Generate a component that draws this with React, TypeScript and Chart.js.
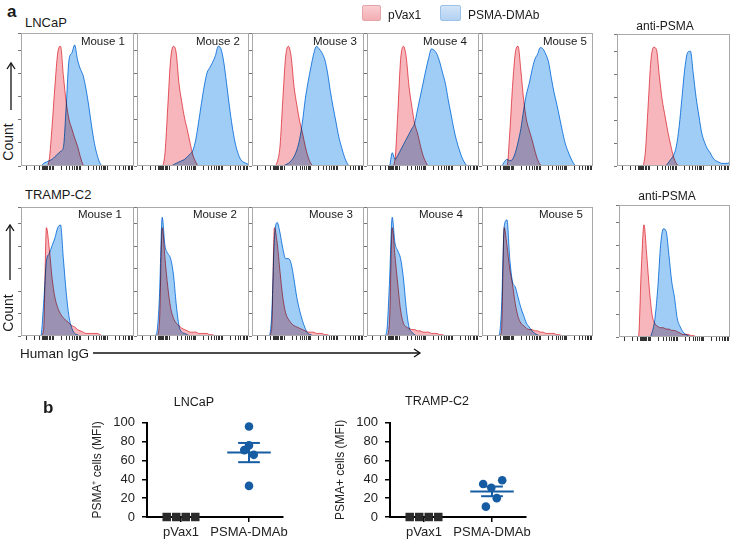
import React, { useEffect, useRef } from 'react';
import { Chart, registerables } from 'chart.js';
Chart.register(...registerables);

const FONT = '"Liberation Sans", Arial, Helvetica, sans-serif';
Chart.defaults.font.family = FONT;

// ---------- Panel a: histogram data (41 channels, % of max count) ----------
const BINS = [0,1,2,3,4,5,6,7,8,9,10,11,12,13,14,15,16,17,18,19,20,21,22,23,24,25,26,27,28,29,30,31,32,33,34,35,36,37,38,39,40];

// LNCaP row
const LN1_PVAX = [0,0,0,0,0,0,0,0,0,0, 5,30,60,85,90,68,48,35,28,21, 15,7,1,0,0,0,0,0,0,0, 0,0,0,0,0,0,0,0,0,0, 0];
const LN1_DMAB = [0,0,0,0,0,0,0,0,2,3, 4,5,7,9,11,14,45,80,85,91, 80,73,68,58,45,30,17,8,2,0, 0,0,0,0,0,0,0,0,0,0, 0];
const LN2_PVAX = [0,0,0,0,0,0,0,0,0,0, 10,45,80,90,85,62,48,36,27,17, 8,3,0,0,0,0,0,0,0,0, 0,0,0,0,0,0,0,0,0,0, 0];
const LN2_DMAB = [0,0,0,0,0,0,0,0,0,0, 0,0,0,1,2,3,4,5,7,9, 12,20,33,47,60,70,74,78,83,90, 88,78,62,45,30,18,10,5,3,2, 1];
const LN3_PVAX = [0,0,0,0,0,0,0,0,0,3, 15,50,82,90,82,60,46,34,25,15, 7,2,0,0,0,0,0,0,0,0, 0,0,0,0,0,0,0,0,0,0, 0];
const LN3_DMAB = [0,0,0,0,0,0,0,0,0,0, 0,0,1,2,4,7,12,20,33,50, 63,74,84,90,88,85,80,70,56,44, 33,22,14,7,2,0,0,0,0,0, 0];
const LN4_PVAX = [0,0,0,0,0,0,0,0,0,0, 5,40,80,90,82,60,45,32,25,16, 8,3,0,0,0,0,0,0,0,0, 0,0,0,0,0,0,0,0,0,0, 0];
const LN4_DMAB = [0,0,0,0,0,0,0,0,0,10, 5,8,12,16,20,24,28,32,42,52, 62,72,81,88,87,84,78,70,62,50, 39,28,19,12,6,2,0,0,0,0, 0];
const LN5_PVAX = [0,0,0,0,0,0,0,0,0,0, 25,60,85,90,72,50,35,27,20,12, 5,1,0,0,0,0,0,0,0,0, 0,0,0,0,0,0,0,0,0,0, 0];
const LN5_DMAB = [0,0,0,0,0,0,0,0,3,5, 4,5,10,18,28,42,54,62,72,80, 84,89,88,84,78,66,55,46,36,26, 17,11,6,2,0,0,0,0,0,0, 0];
const LNA_PVAX = [0,0,0,0,0,0,0,0,0,0, 10,45,80,90,88,68,50,38,26,16, 7,2,0,0,0,0,0,0,0,0, 0,0,0,0,0,0,0,0,0,0, 0];
const LNA_ANTI = [0,0,0,0,0,0,0,0,0,0, 0,0,0,0,0,0,0,0,2,5, 8,15,30,52,74,86,87,70,52,38, 25,18,13,10,6,4,3,2,2,2, 3];

// TRAMP-C2 row
const TR1_PVAX = [0,0,0,0,0,0,0,0,5,84, 68,45,30,22,17,14,12,10,8,7, 5,4,3,2,2,2,2,2,1,0, 0,0,0,0,0,0,0,0,0,0, 0];
const TR1_DMAB = [0,0,0,0,0,0,0,0,25,58, 64,70,76,84,86,60,34,15,6,2, 1,0,0,0,0,0,0,0,0,0, 0,0,0,0,0,0,0,0,0,0, 0];
const TR2_PVAX = [0,0,0,0,0,0,0,0,10,84, 60,38,22,14,10,8,6,5,4,3, 3,3,2,2,2,2,1,1,0,0, 0,0,0,0,0,0,0,0,0,0, 0];
const TR2_DMAB = [0,0,0,0,0,0,0,2,30,92, 70,64,60,48,25,8,3,2,1,0, 0,0,0,0,0,0,0,0,0,0, 0,0,0,0,0,0,0,0,0,0, 0];
const TR3_PVAX = [0,0,0,0,0,0,0,5,84,72, 50,30,18,13,10,8,7,6,5,4, 3,3,3,2,2,2,1,1,0,0, 0,0,0,0,0,0,0,0,0,0, 0];
const TR3_DMAB = [0,0,0,0,0,0,0,15,75,88, 80,68,60,60,56,44,30,20,12,6, 2,1,0,0,0,0,0,0,0,0, 0,0,0,0,0,0,0,0,0,0, 0];
const TR4_PVAX = [0,0,0,0,0,0,0,0,10,84, 62,40,20,10,7,6,5,5,4,4, 3,3,3,2,2,2,1,1,0,0, 0,0,0,0,0,0,0,0,0,0, 0];
const TR4_DMAB = [0,0,0,0,0,0,0,3,40,92, 72,66,60,45,22,7,3,1,0,0, 0,0,0,0,0,0,0,0,0,0, 0,0,0,0,0,0,0,0,0,0, 0];
const TR5_PVAX = [0,0,0,0,0,0,0,3,84,70, 52,40,25,15,10,8,6,5,5,4, 4,3,3,2,2,2,2,1,1,0, 0,0,0,0,0,0,0,0,0,0, 0];
const TR5_DMAB = [0,0,0,0,0,0,0,20,85,90, 60,42,38,30,22,16,10,7,4,2, 1,0,0,0,0,0,0,0,0,0, 0,0,0,0,0,0,0,0,0,0, 0];
const TRA_PVAX = [0,0,0,0,0,0,0,0,50,85, 62,35,16,10,8,7,7,6,6,5, 5,4,3,2,2,2,1,1,0,0, 0,0,0,0,0,0,0,0,0,0, 0];
const TRA_ANTI = [0,0,0,0,0,0,0,0,0,0, 0,0,4,15,38,70,82,80,62,42, 30,14,8,4,2,1,0,0,0,0, 0,0,0,0,0,0,0,0,0,0, 0];

const MICE = ['Mouse 1', 'Mouse 2', 'Mouse 3', 'Mouse 4', 'Mouse 5'];
const CONTROL_LABEL = 'anti-PSMA';
const LEGEND = ['pVax1', 'PSMA-DMAb'];

// ---------- Panel b: dot plots ----------
const GROUPS = ['pVax1', 'PSMA-DMAb'];
const LNCAP_PVAX = [0, 0, 0, 0];
const LNCAP_DMAB = [96, 76, 71, 66, 33];
const TRAMP_PVAX = [0, 0, 0, 0];
const TRAMP_DMAB = [39, 35, 31, 20, 11];
const PVAX_JITTER = [-0.21, -0.07, 0.07, 0.21];
const LNCAP_JITTER = [0, 0, -0.07, 0.07, 0];
const TRAMP_JITTER = [0.15, -0.13, -0.01, 0.07, -0.09];
const Y_TICK_STEP = 20;

// log-like channel axis ticks
const X_TICKS: number[] = [];
[2, 11.5, 21, 30.5].forEach((d) => {
  for (let k = 1; k <= 9; k++) X_TICKS.push(d + 9.5 * Math.log10(k));
});
for (let v = 8; v <= 9.41; v += 0.2) X_TICKS.push(v);

const PINK_FILL = 'rgb(247,182,187)';
const PINK_LINE = 'rgb(232,95,105)';
const BLUE_FILL = 'rgb(160,205,245)';
const BLUE_LINE = 'rgb(45,140,228)';
const DOT = 'rgb(22,92,162)';

const blendPlugin = {
  id: 'blend',
  beforeDatasetsDraw(c: any) { c.ctx.save(); c.ctx.globalCompositeOperation = 'multiply'; },
  afterDatasetsDraw(c: any) { c.ctx.restore(); },
};
const framePlugin = {
  id: 'frame',
  afterDraw(c: any) {
    const { ctx, chartArea: a } = c;
    ctx.save();
    ctx.strokeStyle = '#a9a9a9';
    ctx.lineWidth = 1;
    ctx.strokeRect(Math.round(a.left) + 0.5, Math.round(a.top) + 0.5, Math.round(a.right - a.left) - 1, Math.round(a.bottom - a.top) - 1);
    ctx.restore();
  },
};

const TL = 4;

function Hist({ left, top, width, height, pink, blue }: any) {
  const ref = useRef<HTMLCanvasElement>(null);
  useEffect(() => {
    const mk = (arr: number[], line: string, fillc: string) => ({
      data: arr.map((y, i) => ({ x: BINS[i], y })),
      borderColor: line,
      backgroundColor: fillc,
      fill: 'origin',
      borderWidth: 1,
      pointRadius: 0,
      cubicInterpolationMode: 'monotone',
    });
    const chart = new Chart(ref.current as HTMLCanvasElement, {
      type: 'line',
      data: { datasets: [mk(blue, BLUE_LINE, BLUE_FILL), mk(pink, PINK_LINE, PINK_FILL)] as any },
      options: {
        responsive: false,
        animation: false,
        devicePixelRatio: 1,
        events: [],
        layout: { padding: 0 },
        plugins: { legend: { display: false }, tooltip: { enabled: false } },
        scales: {
          x: {
            type: 'linear', min: 0, max: 40,
            ticks: { display: false },
            grid: { drawOnChartArea: false, drawTicks: true, tickLength: TL, color: '#333', lineWidth: 1 },
            border: { display: false },
            afterBuildTicks: (s: any) => { s.ticks = X_TICKS.map((value) => ({ value })); },
            afterFit: (s: any) => { s.height = TL; },
          },
          y: {
            min: 0, max: 100,
            ticks: { display: false, stepSize: 17.4 },
            grid: { drawOnChartArea: false, drawTicks: true, tickLength: TL - 1, color: '#777', lineWidth: 1 },
            border: { display: false },
            afterFit: (s: any) => { s.width = TL; },
          },
        },
      } as any,
      plugins: [blendPlugin, framePlugin],
    });
    return () => chart.destroy();
  }, []);
  return (
    <canvas ref={ref} width={width + TL} height={height + TL}
      style={{ position: 'absolute', left: left - TL, top, width: width + TL, height: height + TL }} />
  );
}

function Dots({ left, top, pvax, dmab, jitter, yTitle }: any) {
  const ref = useRef<HTMLCanvasElement>(null);
  useEffect(() => {
    const n = dmab.length;
    const mean = dmab.reduce((a: number, b: number) => a + b, 0) / n;
    const sd = Math.sqrt(dmab.reduce((a: number, b: number) => a + (b - mean) ** 2, 0) / (n - 1));
    const sem = sd / Math.sqrt(n);
    const c = 2;
    const seg = (x1: number, y1: number, x2: number, y2: number) => ({
      data: [{ x: x1, y: y1 }, { x: x2, y: y2 }],
      showLine: true, borderColor: DOT, borderWidth: 2, pointRadius: 0, clip: false,
    });
    const chart = new Chart(ref.current as HTMLCanvasElement, {
      type: 'scatter',
      data: {
        datasets: [
          { data: dmab.map((v: number, i: number) => ({ x: c + jitter[i], y: v })), pointStyle: 'circle', pointRadius: 4.3, backgroundColor: DOT, borderWidth: 0, clip: false },
          { data: pvax.map((v: number, i: number) => ({ x: 1 + PVAX_JITTER[i], y: v })), pointStyle: 'rect', pointRadius: 6, backgroundColor: '#2a2a2a', borderWidth: 0, clip: false },
          seg(c - 0.32, mean, c + 0.32, mean),
          seg(c, mean - sem, c, mean + sem),
          seg(c - 0.16, mean + sem, c + 0.16, mean + sem),
          seg(c - 0.16, mean - sem, c + 0.16, mean - sem),
        ] as any,
      },
      options: {
        responsive: false,
        animation: false,
        devicePixelRatio: 1,
        events: [],
        layout: { padding: { top: 10, right: 17, bottom: 0, left: 0 } },
        plugins: { legend: { display: false }, tooltip: { enabled: false } },
        scales: {
          x: {
            type: 'linear', min: 0.5, max: 2.5,
            afterBuildTicks: (s: any) => { s.ticks = [1, 2].map((value) => ({ value })); },
            ticks: { callback: (_v: any, i: number) => GROUPS[i], font: { size: 13 }, color: '#222', padding: 3, autoSkip: false, maxRotation: 0 },
            grid: { drawOnChartArea: false, drawTicks: true, tickLength: 5, color: '#000', lineWidth: 1.5 },
            border: { color: '#000', width: 2 },
            afterFit: (s: any) => { s.height = 23; },
          },
          y: {
            min: 0, max: 100,
            ticks: { stepSize: Y_TICK_STEP, font: { size: 13 }, color: '#222', padding: 7 },
            grid: { drawOnChartArea: false, drawTicks: true, tickLength: 5, color: '#000', lineWidth: 1.5 },
            border: { color: '#000', width: 2 },
            title: { display: true, text: yTitle, font: { size: 12 }, color: '#222', padding: { top: 10, bottom: 0 } },
            afterFit: (s: any) => { s.width = 67; },
          },
        },
      } as any,
    });
    return () => chart.destroy();
  }, []);
  return <canvas ref={ref} width={220} height={132} style={{ position: 'absolute', left, top, width: 220, height: 132 }} />;
}

function Txt({ x, cy, size, children, align = 'left', bold = false, rotate = false }: any) {
  const tx = align === 'center' ? '-50%' : align === 'right' ? '-100%' : '0';
  const style: any = {
    position: 'absolute', left: x, top: cy - 0.49 * size, fontSize: size, lineHeight: 1,
    fontWeight: bold ? 'bold' : 'normal', whiteSpace: 'nowrap', color: '#1a1a1a',
    transform: `translateX(${tx})`,
  };
  if (rotate) {
    style.top = cy;
    style.transform = 'translate(-50%,-50%) rotate(-90deg)';
  }
  return <div style={style}>{children}</div>;
}

export default function App() {
  const lefts = [21, 137, 252, 367, 482];
  const widths = [113, 112, 112, 112, 111];
  const lnPvax = [LN1_PVAX, LN2_PVAX, LN3_PVAX, LN4_PVAX, LN5_PVAX];
  const lnDmab = [LN1_DMAB, LN2_DMAB, LN3_DMAB, LN4_DMAB, LN5_DMAB];
  const trPvax = [TR1_PVAX, TR2_PVAX, TR3_PVAX, TR4_PVAX, TR5_PVAX];
  const trDmab = [TR1_DMAB, TR2_DMAB, TR3_DMAB, TR4_DMAB, TR5_DMAB];
  const r1Right = [125, 240, 357, 467, 587];
  const r2Right = [122, 237, 353, 463, 583];
  return (
    <div style={{ position: 'absolute', left: 0, top: 0, width: 738, height: 540, background: '#fff', fontFamily: FONT, overflow: 'hidden' }}>
      {lefts.map((l, i) => (
        <Hist key={'a' + i} left={l} top={33} width={widths[i]} height={133} pink={lnPvax[i]} blue={lnDmab[i]} />
      ))}
      <Hist left={617} top={34} width={113} height={132} pink={LNA_PVAX} blue={LNA_ANTI} />
      {lefts.map((l, i) => (
        <Hist key={'b' + i} left={l} top={207} width={widths[i]} height={129} pink={trPvax[i]} blue={trDmab[i]} />
      ))}
      <Hist left={619} top={205} width={111} height={132} pink={TRA_PVAX} blue={TRA_ANTI} />

      {MICE.map((m, i) => (
        <Txt key={'m1' + i} x={r1Right[i]} cy={42} size={11.5} align="right">{m}</Txt>
      ))}
      {MICE.map((m, i) => (
        <Txt key={'m2' + i} x={r2Right[i]} cy={215} size={11.5} align="right">{m}</Txt>
      ))}

      <Txt x={7} cy={11} size={17} bold>a</Txt>
      <Txt x={25} cy={22} size={13}>LNCaP</Txt>
      <Txt x={25} cy={194} size={13}>TRAMP-C2</Txt>
      <Txt x={665} cy={26} size={12} align="center">{CONTROL_LABEL}</Txt>
      <Txt x={667} cy={196} size={12} align="center">{CONTROL_LABEL}</Txt>

      <div style={{ position: 'absolute', left: 362, top: 5, width: 17, height: 14, background: 'linear-gradient(#f9cdd1,#f2aeb3)', border: '1px solid #e3a5a9', borderRadius: 2 }} />
      <Txt x={388} cy={15} size={12}>{LEGEND[0]}</Txt>
      <div style={{ position: 'absolute', left: 440, top: 5, width: 19, height: 14, background: 'linear-gradient(#d2e4f8,#b3d1f2)', border: '1px solid #9cc2e8', borderRadius: 2 }} />
      <Txt x={468} cy={15} size={12}>{LEGEND[1]}</Txt>

      <Txt x={8} cy={142} size={14} rotate>Count</Txt>
      <Txt x={8} cy={313} size={14} rotate>Count</Txt>
      <Txt x={20} cy={354} size={13.5}>Human IgG</Txt>

      <svg width={738} height={540} style={{ position: 'absolute', left: 0, top: 0, pointerEvents: 'none' }}>
        <g stroke="#111" strokeWidth={1.3} fill="none">
          <line x1={11} y1={110} x2={11} y2={63} />
          <polyline points="7,69 11,63 15,69" />
          <line x1={10} y1={280} x2={10} y2={225} />
          <polyline points="6,231 10,225 14,231" />
          <line x1={93} y1={353} x2={420} y2={353} />
          <polyline points="414,349 420,353 414,357" />
        </g>
      </svg>

      <Txt x={43} cy={407} size={17} bold>b</Txt>
      <Txt x={194} cy={402} size={12.5} align="center">LNCaP</Txt>
      <Txt x={437} cy={401} size={12.5} align="center">TRAMP-C2</Txt>
      <Dots left={80} top={408} pvax={LNCAP_PVAX} dmab={LNCAP_DMAB} jitter={LNCAP_JITTER} yTitle={'PSMA\u207A cells (MFI)'} />
      <Dots left={323} top={408} pvax={TRAMP_PVAX} dmab={TRAMP_DMAB} jitter={TRAMP_JITTER} yTitle={'PSMA+ cells (MFI)'} />
    </div>
  );
}
